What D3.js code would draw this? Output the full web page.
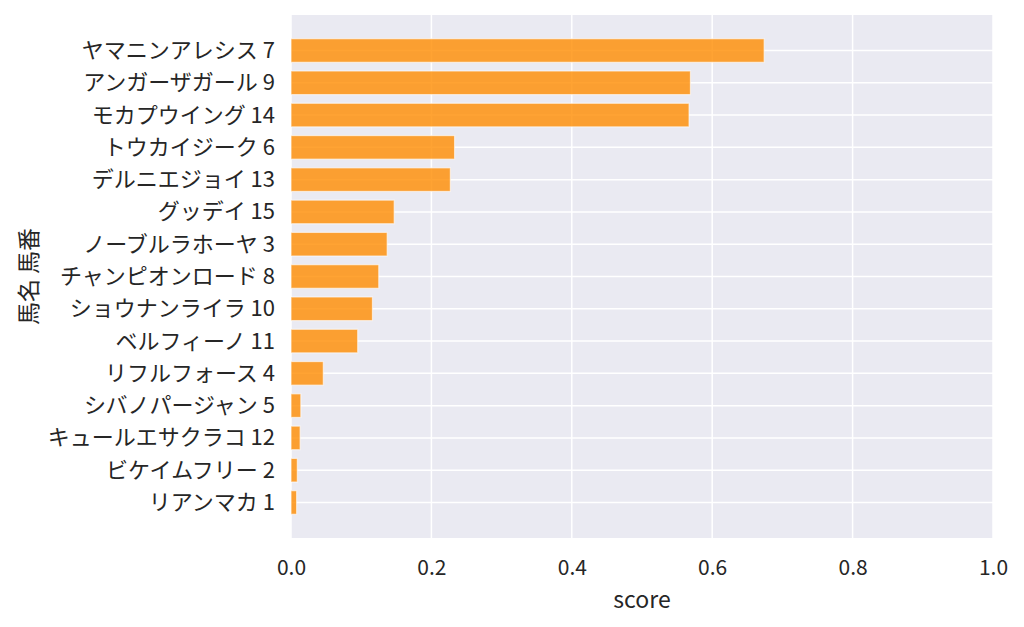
<!DOCTYPE html>
<html>
<head>
<meta charset="utf-8">
<script src="https://cdn.jsdelivr.net/npm/d3@7"></script>
<style>
  body { margin: 0; background: #ffffff; }
  svg { display: block; font-family: "Noto Sans CJK JP", "Noto Sans", sans-serif; }
</style>
</head>
<body>
<div class="chart"></div>
<script>
// данные: сверху вниз
var horseNames = [
    'ヤマニンアレシス 7', 'アンガーザガール 9', 'モカプウイング 14', 'トウカイジーク 6',
    'デルニエジョイ 13', 'グッデイ 15', 'ノーブルラホーヤ 3', 'チャンピオンロード 8',
    'ショウナンライラ 10', 'ベルフィーノ 11', 'リフルフォース 4', 'シバノパージャン 5',
    'キュールエサクラコ 12', 'ビケイムフリー 2', 'リアンマカ 1'
]
var scores = [
    0.674, 0.569, 0.567, 0.233, 0.227, 0.147, 0.137, 0.125,
    0.116, 0.095, 0.046, 0.014, 0.013, 0.009, 0.008
]
var xTicks = [0, 0.2, 0.4, 0.6, 0.8, 1.0]

var width = 1024,
    height = 627,
    plotLeft = 291,
    plotRight = 993,
    plotTop = 15,
    plotBottom = 538,
    textColor = '#262626',
    bgColor = '#EAEAF2',
    barColor = 'rgba(255, 140, 0, 0.8)'

var svg = d3.select('.chart')
    .append('svg')
    .attr('width', width)
    .attr('height', height)

var x = d3.scaleLinear().domain([0, 1]).range([plotLeft, plotRight])
// позиции баров как в matplotlib: индекс 0..n-1 с полями
var y = d3.scaleLinear().domain([-1.1, horseNames.length - 1 + 1.1]).range([plotTop, plotBottom])
var barH = 0.73

// фон
svg.append('rect')
    .attr('x', plotLeft)
    .attr('y', plotTop)
    .attr('width', plotRight - plotLeft)
    .attr('height', plotBottom - plotTop)
    .attr('fill', bgColor)

// сетка
svg.append('g')
    .selectAll('line')
    .data(xTicks)
    .enter()
    .append('line')
    .attr('x1', d => x(d))
    .attr('x2', d => x(d))
    .attr('y1', plotTop)
    .attr('y2', plotBottom)
    .attr('stroke', '#ffffff')
    .attr('stroke-width', 1.5)

svg.append('g')
    .selectAll('line')
    .data(horseNames)
    .enter()
    .append('line')
    .attr('x1', plotLeft)
    .attr('x2', plotRight)
    .attr('y1', (d, i) => y(i))
    .attr('y2', (d, i) => y(i))
    .attr('stroke', '#ffffff')
    .attr('stroke-width', 1.5)

// бары
svg.append('g')
    .selectAll('rect')
    .data(scores)
    .enter()
    .append('rect')
    .attr('x', x(0))
    .attr('y', (d, i) => y(i - barH / 2))
    .attr('width', d => x(d) - x(0))
    .attr('height', y(barH) - y(0))
    .attr('fill', barColor)
    .attr('stroke', 'rgba(255, 255, 255, 0.6)')
    .attr('stroke-width', 1.2)

// оси
var xAxis = d3.axisBottom(x)
    .tickValues(xTicks)
    .tickFormat(d3.format('.1f'))
    .tickSize(0)
    .tickPadding(22)

svg.append('g')
    .attr('transform', 'translate(0,' + plotBottom + ')')
    .call(xAxis)
    .call(g => g.select('.domain').remove())
    .selectAll('text')
    .attr('fill', textColor)
    .style('font-size', '21px')
    .style('font-family', '"Noto Sans CJK JP", sans-serif')

var yAxis = d3.axisLeft(y)
    .tickValues(d3.range(horseNames.length))
    .tickFormat(i => horseNames[i])
    .tickSize(0)
    .tickPadding(16)

svg.append('g')
    .attr('transform', 'translate(' + plotLeft + ',0)')
    .call(yAxis)
    .call(g => g.select('.domain').remove())
    .selectAll('text')
    .attr('fill', textColor)
    .style('font-size', '22px')
    .style('font-family', '"Noto Sans CJK JP", sans-serif')

// подписи осей
svg.append('text')
    .attr('x', (plotLeft + plotRight) / 2)
    .attr('y', 608)
    .attr('text-anchor', 'middle')
    .attr('fill', textColor)
    .style('font-size', '23px')
    .text('score')

svg.append('text')
    .attr('transform', 'translate(37,' + (plotTop + plotBottom) / 2 + ') rotate(-90)')
    .attr('text-anchor', 'middle')
    .attr('fill', textColor)
    .style('font-size', '23px')
    .text('馬名 馬番')
</script>
</body>
</html>
